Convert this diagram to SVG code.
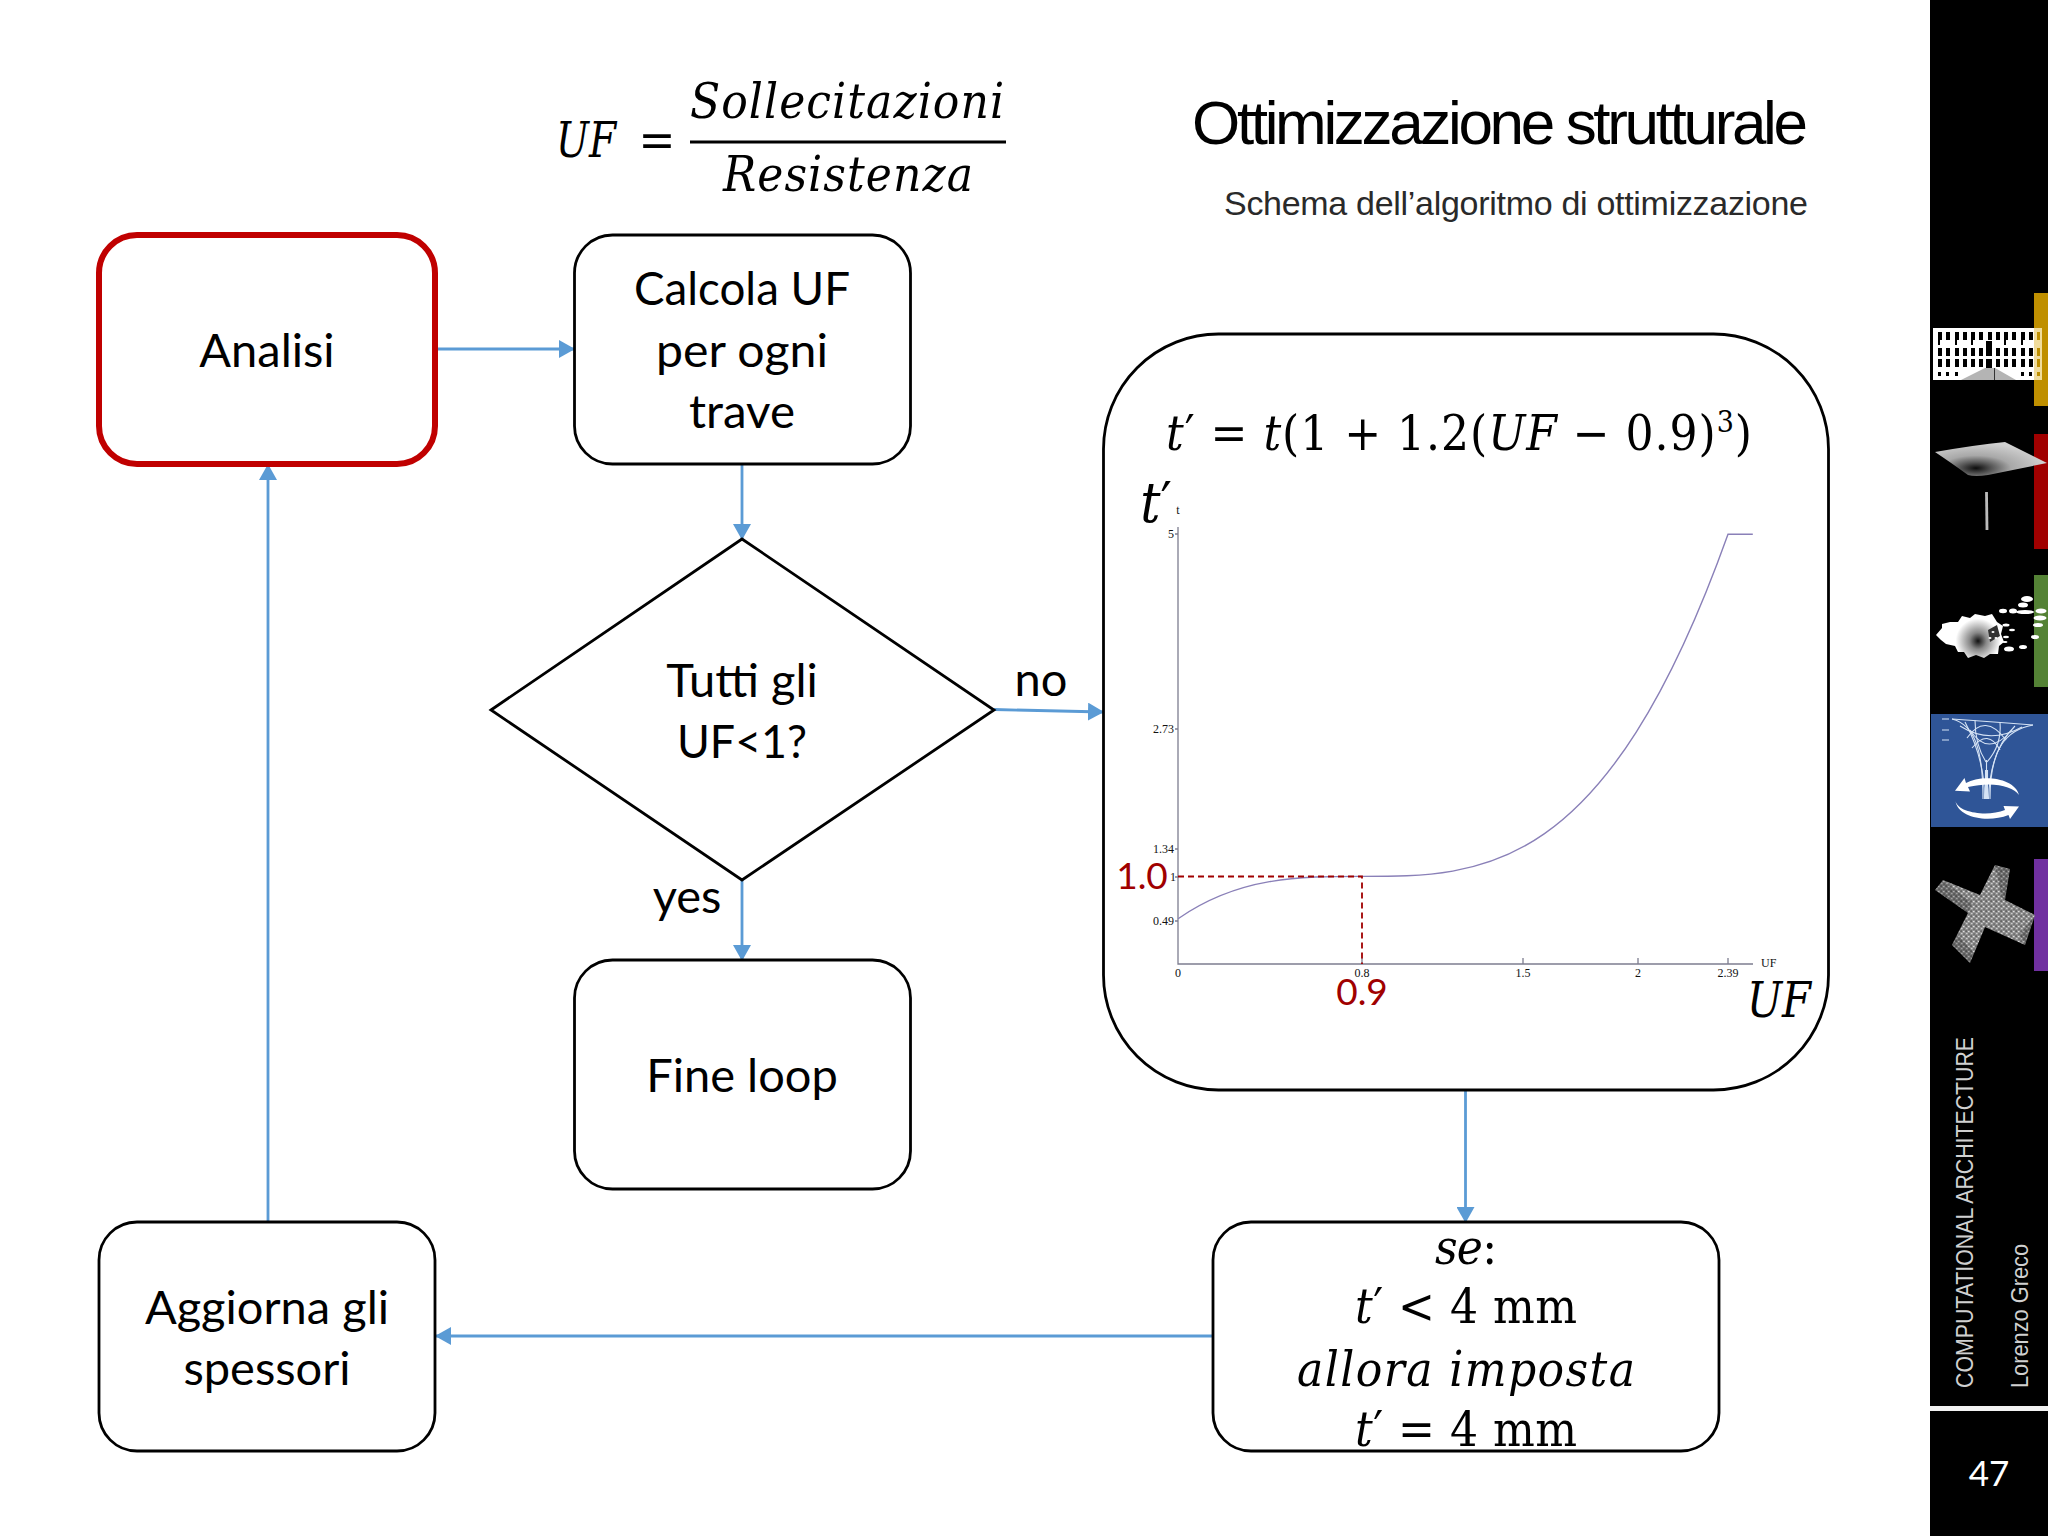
<svg xmlns="http://www.w3.org/2000/svg" width="2048" height="1536" viewBox="0 0 2048 1536">
<style>
.box{fill:#fff;stroke:#000;stroke-width:2.8}
.body{font-family:"Lato","Carlito","Noto Sans",sans-serif;font-size:47px;fill:#000;text-anchor:middle}
.math{font-family:"DejaVu Serif Condensed","DejaVu Serif","Liberation Serif",serif;font-stretch:condensed;font-size:49px;fill:#000;text-anchor:middle}
.it{font-style:italic}
.conn{fill:none;stroke:#5b9bd5;stroke-width:2.8;marker-end:url(#arrow)}
.tick{font-family:"Liberation Serif",serif;font-size:12px;fill:#111}
.axis{fill:none;stroke:#7d7d90;stroke-width:1.3}
.red{font-family:"Lato","Noto Sans",sans-serif;font-size:37px;fill:#a00000;text-anchor:middle}
.dash{fill:none;stroke:#a00000;stroke-width:1.8;stroke-dasharray:6 4}
.side{font-family:"Liberation Sans",Arial,sans-serif;font-size:24px;fill:#d0d0d0}
</style>
<defs>
<marker id="arrow" markerUnits="userSpaceOnUse" markerWidth="18" markerHeight="18" refX="15" refY="9" orient="auto"><path d="M0,0L16,9L0,18Z" fill="#5b9bd5"/></marker>
<radialGradient id="sad" gradientUnits="userSpaceOnUse" cx="1976" cy="467" r="70" gradientTransform="translate(0 300) scale(1 .36)"><stop offset="0" stop-color="#0c0c0c"/><stop offset=".22" stop-color="#555"/><stop offset=".5" stop-color="#a8a8a8"/><stop offset="1" stop-color="#d0d0d0"/></radialGradient>
<radialGradient id="spl" gradientUnits="userSpaceOnUse" cx="1978" cy="641" r="28"><stop offset="0" stop-color="#111"/><stop offset=".3" stop-color="#888"/><stop offset=".8" stop-color="#fff"/></radialGradient>
<pattern id="grain" patternUnits="userSpaceOnUse" width="5" height="5"><rect width="5" height="5" fill="#8f8f8f"/><rect x=".5" y=".5" width="1.2" height="1.2" fill="#333"/><rect x="3" y="1" width="1.5" height="1.1" fill="#ddd"/><rect x="1" y="3" width="1.5" height="1.1" fill="#ccc"/><rect x="3.500" y="3.500" width="1.1" height="1.1" fill="#3c3c3c"/></pattern>
</defs>
<rect width="2048" height="1536" fill="#fff"/>

<g id="sidebar">
<rect x="1930" y="0" width="118" height="1536" fill="#000"/>
<rect x="2034" y="293" width="14" height="113" fill="#bf8f00"/>
<rect x="2034" y="434" width="14" height="115" fill="#a00000"/>
<rect x="2034" y="575" width="14" height="112" fill="#548235"/>
<rect x="2034" y="859" width="14" height="112" fill="#7030a0"/>
<rect x="1931" y="714" width="117" height="113" fill="#2f5597"/>
<rect x="1930" y="1406" width="118" height="5" fill="#f2f2f2"/>
<g id="thumb-building">
<rect x="1933" y="328" width="101" height="52" fill="#fff"/>
<rect x="2034" y="328" width="8" height="52" fill="#f0dc9c"/>
<path d="M1938 332h4v8h-4zM1946 332h4v8h-4zM1955 332h4v8h-4zM1963 332h4v8h-4zM1971 332h4v8h-4zM1979 332h4v8h-4zM1988 332h4v8h-4zM1996 332h4v8h-4zM2004 332h4v8h-4zM2012 332h4v8h-4zM2021 332h4v8h-4zM2029 332h4v8h-4zM1938 348h4v8h-4zM1946 348h4v8h-4zM1955 348h4v8h-4zM1963 348h4v8h-4zM1971 348h4v8h-4zM1979 348h4v8h-4zM1986 341h6v15h-6zM1996 348h4v8h-4zM2004 348h4v8h-4zM2012 348h4v8h-4zM2021 348h4v8h-4zM2029 348h4v8h-4zM1938 359h4v8h-4zM1946 359h4v8h-4zM1955 359h4v8h-4zM1963 359h4v8h-4zM1971 359h4v8h-4zM1979 359h4v8h-4zM1986 359h6v9h-6zM1996 359h4v8h-4zM2004 359h4v8h-4zM2012 359h4v8h-4zM2021 359h4v8h-4zM2029 359h4v8h-4zM1938 372h3v4h-3zM1946 372h3v4h-3zM1955 372h3v4h-3zM2021 372h3v4h-3zM2029 372h3v4h-3zM1938 340h2v5h-2zM1955 340h2v5h-2zM1971 340h2v5h-2zM2004 340h2v5h-2zM2021 340h2v5h-2z" fill="#000"/>
<path d="M2037 332h3v8h-3zM2037 348h3v8h-3zM2037 359h3v8h-3zM2037 372h3v4h-3z" fill="#bf8f00"/>
<path d="M1961 380L1985 368H1995L2016 380Z" fill="#b4b4b4"/>
<path d="M1994.500 368V380" stroke="#333" stroke-width="1"/>
</g>
<g id="thumb-saddle">
<path d="M1935 452Q1975 445 2005 442Q2025 452 2047 463L1988 475Q1975 477 1968 475Q1950 462 1935 452Z" fill="url(#sad)"/>
<path d="M1986.500 492L1987 530" stroke="#bbb" stroke-width="2.800"/>
</g>
<g id="thumb-splash">
<path d="M1936 635L1942 628L1942 624L1950 622L1958 622L1962 616L1970 618L1975 614L1985 616L1992 614L1997 622L2003 626L2001 634L2004 642L1999 646L1998 654L1990 654L1984 658L1976 655L1968 658L1964 652L1958 652L1955 646L1946 644L1941 640Z" fill="url(#spl)"/>
<path d="M1988 630L1997 625L2000 636L1990 642Z" fill="#333"/>
<g fill="#fff">
<ellipse cx="2027" cy="599" rx="6" ry="3"/><ellipse cx="2023" cy="605" rx="5" ry="2.5"/><ellipse cx="2003" cy="611" rx="4" ry="2.2"/><ellipse cx="2013" cy="611" rx="4" ry="2.5"/><ellipse cx="2025" cy="612" rx="9" ry="2"/><ellipse cx="2041" cy="611" rx="5.5" ry="2.5"/><ellipse cx="2040" cy="618" rx="6.500" ry="2.5"/><ellipse cx="2038" cy="625" rx="5" ry="2"/><ellipse cx="2035" cy="637" rx="4" ry="2"/><ellipse cx="2009" cy="649" rx="5" ry="2.5"/><ellipse cx="2023" cy="647" rx="4" ry="2"/><ellipse cx="2006" cy="625" rx="3.5" ry="1.5"/><ellipse cx="2012" cy="630" rx="3" ry="1.2"/><ellipse cx="2006" cy="637" rx="3" ry="1.2"/><ellipse cx="2005" cy="642" rx="2.5" ry="1"/><ellipse cx="1993" cy="632" rx="1.5" ry="1"/><ellipse cx="1996" cy="638" rx="1.5" ry="1"/><ellipse cx="1990" cy="638" rx="1.5" ry="1"/>
</g>
</g>
<g id="thumb-tree">
<g fill="none" stroke="#d5e3f5" stroke-width="1.1">
<path d="M1952 719Q1995 722 2033 725"/>
<path d="M1952 719C1975 725 1983 750 1983 799"/><path d="M2033 725C2005 730 1990 750 1990 799"/>
<path d="M1965 722Q1985 760 1984.500 799"/><path d="M2015 726Q1990 750 1988.500 799"/>
<path d="M1975 720Q1975 745 1986 762"/><path d="M2000 722Q2002 745 1987 762"/>
<path d="M1967 738Q1985 712 2006 740"/><path d="M1972 748Q1988 728 2000 750"/><path d="M1960 726Q1990 745 2022 727"/><path d="M1970 730Q1988 758 2012 730"/>
<path d="M1986.500 760V799"/><path d="M1985.500 770V799"/><path d="M1987.500 770V799"/>
</g>
<path d="M1942 719h7M1942 730h7M1942 740h7" stroke="#d5e3f5" stroke-width="1.2"/>
<path d="M1955 790.700L1964.500 778L1966 783C1982 774 2015 778 2019 795C2013 786 1992 781 1968 787L1970 791.500Z" fill="#fff"/>
<path d="M1955.500 801C1958 813 1988 817 2005 810L2003.500 806L2019 806.500L2010 819L2008.500 815C1988 823 1958 818 1955.500 801Z" fill="#fff"/>
</g>
<g id="thumb-cross">
<path d="M1943 880L1980 895L1995 865L2010 869L2005 900L2035 915L2025 945L1985 927L1970 963L1952 945L1968 913L1935 890Z" fill="url(#grain)"/>
<path d="M1943 880L1935 890L1968 913L1972 903ZM1995 865L2010 869L2005 900L2002 898ZM2035 915L2025 945L2020 935ZM1952 945L1970 963L1974 953L1958 935Z" fill="#000" opacity=".22"/>
</g>
<text class="side" transform="translate(1973 1388) rotate(-90)" textLength="351" lengthAdjust="spacingAndGlyphs">COMPUTATIONAL ARCHITECTURE</text>
<text class="side" transform="translate(2028 1388) rotate(-90)" textLength="144" lengthAdjust="spacingAndGlyphs">Lorenzo Greco</text>
<text x="1989" y="1486" font-family="Lato,'Noto Sans',sans-serif" font-size="35" fill="#fff" text-anchor="middle">47</text>
</g>

<g id="title">
<text x="1808" y="144" font-family="'Liberation Sans',Arial,sans-serif" font-size="62" fill="#000" text-anchor="end" textLength="616" lengthAdjust="spacing">Ottimizzazione strutturale</text>
<text x="1808" y="215" font-family="'Liberation Sans',Arial,sans-serif" font-size="34" fill="#2a2a2a" text-anchor="end" textLength="584" lengthAdjust="spacing">Schema dell’algoritmo di ottimizzazione</text>
</g>

<g id="uf-formula">
<text class="math it" x="586" y="157" textLength="60" lengthAdjust="spacingAndGlyphs">UF</text>
<text class="math" x="657" y="157">=</text>
<text class="math it" x="847" y="118" textLength="314" lengthAdjust="spacing">Sollecitazioni</text>
<line x1="690" y1="142" x2="1006" y2="142" stroke="#000" stroke-width="3"/>
<text class="math it" x="848" y="191" textLength="250" lengthAdjust="spacing">Resistenza</text>
</g>

<g id="connectors">
<path class="conn" d="M435 349H574"/>
<path class="conn" d="M742 464V539"/>
<path class="conn" d="M994 709.500L1103 712"/>
<path class="conn" d="M742 880V960"/>
<path class="conn" d="M1465.500 1091V1222"/>
<path class="conn" d="M1212 1336H436"/>
<path class="conn" d="M268 1222V465"/>
</g>

<g id="node-analisi">
<rect x="99" y="235" width="336" height="229" rx="38" fill="#fff" stroke="#c00000" stroke-width="6"/>
<text class="body" x="267" y="367">Analisi</text>
</g>
<g id="node-calcola">
<rect class="box" x="574.500" y="235" width="336" height="229" rx="38"/>
<text class="body" x="742" y="305" textLength="216" lengthAdjust="spacingAndGlyphs">Calcola UF</text>
<text class="body" x="742" y="367" textLength="172" lengthAdjust="spacingAndGlyphs">per ogni</text>
<text class="body" x="742" y="428" textLength="106" lengthAdjust="spacingAndGlyphs">trave</text>
</g>
<g id="node-decision">
<path class="box" d="M491 710L742 539L994 710L742 880Z"/>
<text class="body" x="742" y="697">Tutti gli</text>
<text class="body" x="742" y="758" textLength="130" lengthAdjust="spacingAndGlyphs">UF&lt;1?</text>
</g>
<g id="label-no"><text class="body" x="1041" y="696">no</text></g>
<g id="label-yes"><text class="body" x="687" y="913">yes</text></g>
<g id="node-fine">
<rect class="box" x="574.500" y="960" width="336" height="229" rx="38"/>
<text class="body" x="742" y="1092">Fine loop</text>
</g>
<g id="node-aggiorna">
<rect class="box" x="99" y="1222" width="336" height="229" rx="38"/>
<text class="body" x="267" y="1324">Aggiorna gli</text>
<text class="body" x="267" y="1385">spessori</text>
</g>
<g id="node-se">
<rect class="box" x="1213" y="1222" width="506" height="229" rx="38"/>
<text class="math" x="1466" y="1264" textLength="62" lengthAdjust="spacing"><tspan class="it">se</tspan>:</text>
<text class="math" x="1466" y="1323" textLength="222" lengthAdjust="spacing"><tspan class="it">t</tspan>′ &lt; 4 mm</text>
<text class="math it" x="1466" y="1386" textLength="338" lengthAdjust="spacing">allora imposta</text>
<text class="math" x="1466" y="1446" textLength="222" lengthAdjust="spacing"><tspan class="it">t</tspan>′ = 4 mm</text>
</g>
<g id="node-chart">
<rect class="box" x="1103.500" y="334" width="725" height="756" rx="115"/>
<text class="math" x="1459" y="450" textLength="586" lengthAdjust="spacing"><tspan class="it">t</tspan>′ = <tspan class="it">t</tspan>(1 + 1.2(<tspan class="it">UF</tspan> − 0.9)<tspan dy="-18" style="font-size:30px">3</tspan><tspan dy="18">)</tspan></text>
<text class="math" x="1156" y="522" style="font-size:56px"><tspan class="it">t</tspan>′</text>
<g id="plot">
<path class="axis" d="M1178 527V964H1753M1175 534H1178M1175 729H1178M1175 849H1178M1175 877H1178M1175 921H1178M1362 964V958M1523 964V958M1638 964V958M1728 964V958"/>
<path d="M1178.100 918.700C1361.400 791.400 1544.700 1047 1728 534.200H1752.800" fill="none" stroke="#8a80b8" stroke-width="1.4"/>
<g class="tick">
<text x="1178" y="514" text-anchor="middle">t</text>
<text x="1174" y="538" text-anchor="end">5</text>
<text x="1174" y="733" text-anchor="end">2.73</text>
<text x="1174" y="853" text-anchor="end">1.34</text>
<text x="1176" y="881" text-anchor="end">1</text>
<text x="1174" y="925" text-anchor="end">0.49</text>
<text x="1178" y="977" text-anchor="middle">0</text>
<text x="1362" y="977" text-anchor="middle">0.8</text>
<text x="1523" y="977" text-anchor="middle">1.5</text>
<text x="1638" y="977" text-anchor="middle">2</text>
<text x="1728" y="977" text-anchor="middle">2.39</text>
<text x="1761" y="967">UF</text>
</g>
<path class="dash" d="M1178 876.500H1362V964"/>
<text class="red" x="1142" y="889">1.0</text>
<text class="red" x="1362" y="1005">0.9</text>
</g>
<text class="math it" x="1779" y="1017" textLength="64" lengthAdjust="spacingAndGlyphs">UF</text>
</g>
</svg>
